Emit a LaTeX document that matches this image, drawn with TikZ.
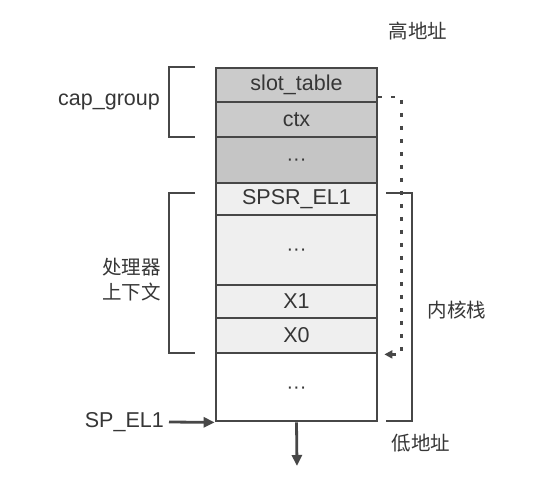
\documentclass[tikz,border=0pt]{standalone}
\usepackage{fontspec}
\setmainfont{Liberation Sans}
\newfontfamily\cjk{Noto Sans CJK SC}
\usetikzlibrary{arrows.meta,calc}
\definecolor{edge}{HTML}{474747}
\definecolor{txt}{HTML}{363636}
\definecolor{midgray}{HTML}{CBCBCB}
\definecolor{darkgray}{HTML}{C5C5C5}
\definecolor{lightgray}{HTML}{EFEFEF}
\newcommand{\stackdots}{\raisebox{-6pt}[0pt][0pt]{\fontsize{20}{20}\selectfont ···}}
\begin{document}
\begin{tikzpicture}[x=1pt,y=-1pt,
  cell/.style={draw=edge,line width=2.8pt,minimum width=161pt,inner sep=0pt,text=txt,
    font=\fontsize{21.5}{24}\selectfont},
  lbl/.style={text=txt,font=\fontsize{21.5}{24}\selectfont,inner sep=0pt},
  cjklbl/.style={text=txt,font=\cjk\fontsize{19.5}{25}\selectfont,inner sep=0pt},
  bracket/.style={draw=edge,line width=2.8pt},
  arr/.style={draw=edge,line width=2.8pt,-{Triangle[length=11pt,width=10pt]}},
  dotline/.style={draw=edge,line width=2.8pt,dash pattern=on 4pt off 9pt,
    -{Triangle[length=8pt,width=8pt]}}]
\useasboundingbox (0,0) rectangle (557,478);
\fill[white] (0,0) rectangle (557,478);
% stack cells
\node[cell,fill=midgray,minimum height=34pt] (slot) at (296.5,85) {slot\_table};
\node[cell,fill=midgray,minimum height=35pt] (ctx) at (296.5,119.5) {ctx};
\node[cell,fill=darkgray,minimum height=46pt] (d1) at (296.5,160) {\stackdots};
\node[cell,fill=lightgray,minimum height=32pt] (spsr) at (296.5,199) {SPSR\_EL1};
\node[cell,fill=lightgray,minimum height=70pt] (d2) at (296.5,250) {\stackdots};
\node[cell,fill=lightgray,minimum height=33pt] (xone) at (296.5,301.5) {X1};
\node[cell,fill=lightgray,minimum height=35pt] (xzero) at (296.5,335.5) {X0};
\node[cell,fill=white,minimum height=68pt] (d3) at (296.5,387) {\stackdots};
% brackets
\draw[bracket] (195,67) -- (169,67) -- (169,137) -- (195,137);
\draw[bracket] (195,193) -- (169,193) -- (169,353) -- (195,353);
\draw[bracket] (386,193) -- (412,193) -- (412,421) -- (386,421);
% labels
\node[lbl,anchor=east] (capg) at (160,102) {cap\_group};
\node[cjklbl,anchor=east,align=right] (proc) at (161,280) {处理器\\上下文};
\node[cjklbl] (kstack) at (457,310) {内核栈};
\node[cjklbl] (high) at (418,31) {高地址};
\node[cjklbl] (low) at (421,443) {低地址};
\node[lbl,anchor=east] (sp) at (164,422) {SP\_EL1};
% connectors
\coordinate (down) at (297,466);
\draw[arr] (d3.south) -- (down);
\draw[arr] (sp.east) ++(5,0) -- (d3.south west);
\draw[dotline] ([yshift=-12pt]slot.east) -- ++(23,0) |- ([xshift=6pt]xzero.south east);
\end{tikzpicture}
\end{document}
